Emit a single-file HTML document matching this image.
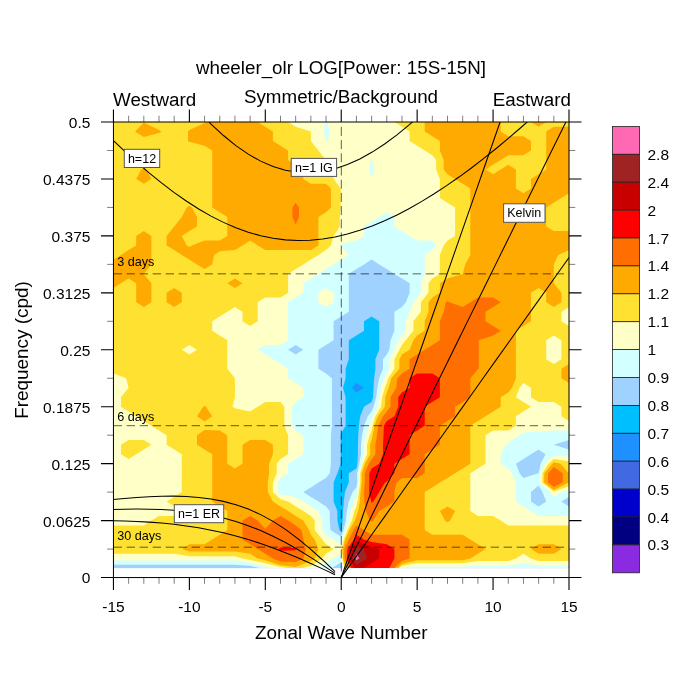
<!DOCTYPE html>
<html><head><meta charset="utf-8"><style>
html,body{margin:0;padding:0;background:#fff;}
svg{display:block;will-change:transform;}
text{font-family:"Liberation Sans",Arial,sans-serif;fill:#000;}
</style></head><body>
<svg width="700" height="700" viewBox="0 0 700 700">
<defs><clipPath id="pc"><rect x="113.45" y="122" width="455.55" height="455.55"/></clipPath></defs>

<g>
<rect x="113.5" y="122.00" width="455.6" height="446.06" fill="#1e90ff"/>
<path fill="#00bfff" fill-rule="evenodd" d="M113.5 568.1L128.6 568.1L143.8 568.1L159.0 568.1L174.2 568.1L189.4 568.1L204.6 568.1L219.7 568.1L234.9 568.1L250.1 568.1L265.3 568.1L280.5 568.1L295.7 568.1L310.9 568.1L326.0 568.1L341.2 568.1L356.4 568.1L371.6 568.1L386.8 568.1L402.0 568.1L417.1 568.1L432.3 568.1L447.5 568.1L462.7 568.1L477.9 568.1L493.1 568.1L508.3 568.1L523.4 568.1L538.6 568.1L553.8 568.1L569.0 568.1L569.0 558.6L569.0 549.1L569.0 539.6L569.0 530.1L569.0 520.6L569.0 511.1L569.0 501.6L569.0 492.1L569.0 482.6L569.0 473.2L569.0 463.7L569.0 454.2L569.0 444.7L569.0 435.2L569.0 425.7L569.0 416.2L569.0 406.7L569.0 397.2L569.0 387.7L569.0 378.2L569.0 368.8L569.0 359.3L569.0 349.8L569.0 340.3L569.0 330.8L569.0 321.3L569.0 311.8L569.0 302.3L569.0 292.8L569.0 283.3L569.0 273.9L569.0 264.4L569.0 254.9L569.0 245.4L569.0 235.9L569.0 226.4L569.0 216.9L569.0 207.4L569.0 197.9L569.0 188.4L569.0 178.9L569.0 169.5L569.0 160.0L569.0 150.5L569.0 141.0L569.0 131.5L569.0 122.0L553.8 122.0L538.6 122.0L523.4 122.0L508.3 122.0L493.1 122.0L477.9 122.0L462.7 122.0L447.5 122.0L432.3 122.0L417.1 122.0L402.0 122.0L386.8 122.0L371.6 122.0L356.4 122.0L341.2 122.0L326.0 122.0L310.9 122.0L295.7 122.0L280.5 122.0L265.3 122.0L250.1 122.0L234.9 122.0L219.7 122.0L204.6 122.0L189.4 122.0L174.2 122.0L159.0 122.0L143.8 122.0L128.6 122.0L113.5 122.0L113.5 131.5L113.5 141.0L113.5 150.5L113.5 160.0L113.5 169.5L113.5 178.9L113.5 188.4L113.5 197.9L113.5 207.4L113.5 216.9L113.5 226.4L113.5 235.9L113.5 245.4L113.5 254.9L113.5 264.4L113.5 273.9L113.5 283.3L113.5 292.8L113.5 302.3L113.5 311.8L113.5 321.3L113.5 330.8L113.5 340.3L113.5 349.8L113.5 359.3L113.5 368.8L113.5 378.2L113.5 387.7L113.5 397.2L113.5 406.7L113.5 416.2L113.5 425.7L113.5 435.2L113.5 444.7L113.5 454.2L113.5 463.7L113.5 473.2L113.5 482.6L113.5 492.1L113.5 501.6L113.5 511.1L113.5 520.6L113.5 530.1L113.5 539.6L113.5 549.1L113.5 558.6ZM356.4 392.5L351.9 387.7L356.4 383.0L364.0 387.7Z"/>
<path fill="#a0d2ff" fill-rule="evenodd" d="M113.5 568.1L128.6 568.1L143.8 568.1L159.0 568.1L174.2 568.1L189.4 568.1L204.6 568.1L219.7 568.1L234.9 568.1L250.1 568.1L265.3 568.1L280.5 568.1L295.7 568.1L310.9 568.1L326.0 568.1L341.2 568.1L356.4 568.1L371.6 568.1L386.8 568.1L402.0 568.1L417.1 568.1L432.3 568.1L447.5 568.1L462.7 568.1L477.9 568.1L493.1 568.1L508.3 568.1L523.4 568.1L538.6 568.1L553.8 568.1L569.0 568.1L569.0 558.6L569.0 549.1L569.0 539.6L569.0 530.1L569.0 520.6L569.0 511.1L569.0 501.6L569.0 492.1L569.0 482.6L569.0 473.2L569.0 463.7L569.0 454.2L569.0 444.7L569.0 435.2L569.0 425.7L569.0 416.2L569.0 406.7L569.0 397.2L569.0 387.7L569.0 378.2L569.0 368.8L569.0 359.3L569.0 349.8L569.0 340.3L569.0 330.8L569.0 321.3L569.0 311.8L569.0 302.3L569.0 292.8L569.0 283.3L569.0 273.9L569.0 264.4L569.0 254.9L569.0 245.4L569.0 235.9L569.0 226.4L569.0 216.9L569.0 207.4L569.0 197.9L569.0 188.4L569.0 178.9L569.0 169.5L569.0 160.0L569.0 150.5L569.0 141.0L569.0 131.5L569.0 122.0L553.8 122.0L538.6 122.0L523.4 122.0L508.3 122.0L493.1 122.0L477.9 122.0L462.7 122.0L447.5 122.0L432.3 122.0L417.1 122.0L402.0 122.0L386.8 122.0L371.6 122.0L356.4 122.0L341.2 122.0L326.0 122.0L310.9 122.0L295.7 122.0L280.5 122.0L265.3 122.0L250.1 122.0L234.9 122.0L219.7 122.0L204.6 122.0L189.4 122.0L174.2 122.0L159.0 122.0L143.8 122.0L128.6 122.0L113.5 122.0L113.5 131.5L113.5 141.0L113.5 150.5L113.5 160.0L113.5 169.5L113.5 178.9L113.5 188.4L113.5 197.9L113.5 207.4L113.5 216.9L113.5 226.4L113.5 235.9L113.5 245.4L113.5 254.9L113.5 264.4L113.5 273.9L113.5 283.3L113.5 292.8L113.5 302.3L113.5 311.8L113.5 321.3L113.5 330.8L113.5 340.3L113.5 349.8L113.5 359.3L113.5 368.8L113.5 378.2L113.5 387.7L113.5 397.2L113.5 406.7L113.5 416.2L113.5 425.7L113.5 435.2L113.5 444.7L113.5 454.2L113.5 463.7L113.5 473.2L113.5 482.6L113.5 492.1L113.5 501.6L113.5 511.1L113.5 520.6L113.5 530.1L113.5 539.6L113.5 549.1L113.5 558.6ZM341.2 531.2L339.4 530.1L337.4 520.6L337.4 511.1L333.6 501.6L333.6 492.1L333.6 482.6L337.4 473.2L340.7 463.7L340.7 454.2L340.7 444.7L340.7 435.2L341.2 433.3L345.6 425.7L345.6 416.2L345.6 406.7L345.6 397.2L343.0 387.7L345.6 378.2L345.6 368.8L348.8 359.3L348.8 349.8L348.8 340.3L356.4 335.5L364.0 330.8L364.0 321.3L371.6 316.6L379.2 321.3L379.2 330.8L379.2 340.3L379.2 349.8L375.4 359.3L375.4 368.8L374.1 378.2L373.5 387.7L373.1 397.2L371.6 402.0L364.0 406.7L360.2 416.2L358.9 425.7L358.3 435.2L357.9 444.7L357.9 454.2L357.4 463.7L356.4 468.4L348.8 473.2L348.8 482.6L345.0 492.1L343.8 501.6L343.1 511.1L342.7 520.6L341.6 530.1Z"/>
<path fill="#d2ffff" fill-rule="evenodd" d="M113.5 558.6L113.4 564.8L128.6 564.8L143.8 564.8L159.0 564.8L174.2 564.8L189.4 564.8L204.6 564.8L219.7 564.8L234.9 564.8L250.1 565.8L259.5 568.1L265.3 568.1L280.5 568.1L295.7 568.1L310.9 568.1L326.0 568.1L331.9 568.1L341.2 562.2L342.1 568.1L356.4 568.1L371.6 568.1L386.8 568.1L402.0 568.1L417.1 568.1L432.3 568.1L447.5 568.1L462.7 568.1L477.9 568.1L493.1 568.1L508.3 568.1L523.4 568.1L538.6 568.1L553.8 568.1L569.0 568.1L569.0 558.6L569.0 549.1L569.0 539.6L569.0 530.1L569.0 520.6L569.0 511.1L569.0 506.4L561.4 501.6L569.0 496.9L569.0 492.1L569.0 482.6L569.0 473.2L569.0 463.7L569.0 454.2L569.0 449.4L553.8 444.7L553.8 444.7L553.8 444.7L569.0 439.9L569.0 435.2L569.0 425.7L569.0 416.2L569.0 406.7L569.0 397.2L569.0 387.7L569.0 378.2L569.0 368.8L569.0 359.3L569.0 349.8L569.0 340.3L569.0 330.8L569.0 321.3L569.0 311.8L569.0 302.3L569.0 292.8L569.0 283.3L569.0 273.9L569.0 264.4L569.0 254.9L569.0 245.4L569.0 235.9L569.0 226.4L569.0 216.9L569.0 207.4L569.0 197.9L569.0 188.4L569.0 178.9L569.0 169.5L569.0 160.0L569.0 150.5L569.0 141.0L569.0 131.5L569.0 122.0L553.8 122.0L538.6 122.0L523.4 122.0L508.3 122.0L493.1 122.0L477.9 122.0L462.7 122.0L447.5 122.0L432.3 122.0L417.1 122.0L402.0 122.0L386.8 122.0L371.6 122.0L356.4 122.0L341.2 122.0L326.0 122.0L310.9 122.0L295.7 122.0L280.5 122.0L265.3 122.0L250.1 122.0L234.9 122.0L219.7 122.0L204.6 122.0L189.4 122.0L174.2 122.0L159.0 122.0L143.8 122.0L128.6 122.0L113.5 122.0L113.5 131.5L113.5 141.0L113.5 150.5L113.5 160.0L113.5 169.5L113.5 178.9L113.5 188.4L113.5 197.9L113.5 207.4L113.5 216.9L113.5 226.4L113.5 235.9L113.5 245.4L113.5 254.9L113.5 264.4L113.5 273.9L113.5 283.3L113.5 292.8L113.5 302.3L113.5 311.8L113.5 321.3L113.5 330.8L113.5 340.3L113.5 349.8L113.5 359.3L113.5 368.8L113.5 378.2L113.5 387.7L113.5 397.2L113.5 406.7L113.5 416.2L113.5 425.7L113.5 435.2L113.5 444.7L113.5 454.2L113.5 463.7L113.5 473.2L113.5 482.6L113.5 492.1L113.5 501.6L113.5 511.1L113.5 520.6L113.5 530.1L113.5 539.6L113.5 549.1ZM295.7 354.5L288.1 349.8L295.7 345.0L303.3 349.8ZM341.2 536.8L330.5 530.1L329.8 520.6L329.8 511.1L326.0 506.4L318.4 501.6L310.9 496.9L303.3 492.1L310.9 487.4L318.4 482.6L326.0 477.9L329.8 473.2L330.9 463.7L330.9 454.2L330.9 444.7L330.9 435.2L331.9 425.7L331.9 416.2L331.9 406.7L331.9 397.2L331.9 387.7L331.9 378.2L326.0 373.5L318.4 368.8L318.4 359.3L318.4 349.8L326.0 345.0L333.6 340.3L333.6 330.8L333.6 321.3L341.2 316.6L348.8 311.8L348.8 302.3L348.8 292.8L348.8 283.3L348.8 273.9L356.4 269.1L364.0 264.4L371.6 259.6L379.2 264.4L386.8 269.1L394.4 273.9L402.0 278.6L409.6 283.3L409.6 292.8L405.8 302.3L402.0 307.1L394.4 311.8L394.4 321.3L394.4 330.8L390.6 340.3L389.3 349.8L386.8 354.5L383.0 359.3L383.0 368.8L379.2 378.2L377.3 387.7L376.2 397.2L373.5 406.7L371.6 411.5L367.8 416.2L364.0 425.7L362.1 435.2L361.0 444.7L361.0 454.2L359.3 463.7L357.2 473.2L357.2 482.6L356.4 487.4L352.6 492.1L348.8 501.6L346.9 511.1L345.8 520.6L343.6 530.1ZM523.4 477.9L519.6 473.2L515.9 463.7L523.4 458.9L531.0 454.2L538.6 449.4L545.5 454.2L540.6 463.7L538.6 473.2L538.6 473.2ZM538.6 506.4L531.0 501.6L531.0 492.1L538.6 485.4L542.4 492.1L546.2 501.6Z"/>
<path fill="#ffffc8" fill-rule="evenodd" d="M113.5 558.6L113.5 560.6L128.6 560.6L143.8 560.6L159.0 560.6L174.2 560.6L189.4 560.6L204.6 560.6L219.7 560.6L234.9 560.6L250.1 562.9L265.3 566.5L272.9 568.1L280.5 568.1L295.7 568.1L310.9 568.1L318.4 568.1L326.0 563.3L333.6 558.6L341.2 553.8L341.6 558.6L343.3 568.1L356.4 568.1L371.6 568.1L386.8 568.1L401.1 568.1L402.0 567.3L417.1 566.5L432.3 566.5L447.5 566.5L462.7 566.5L477.9 565.7L493.1 565.7L508.3 565.7L523.4 563.3L538.6 565.7L553.8 565.7L569.0 565.7L569.0 558.6L569.0 549.1L569.0 539.6L569.0 530.1L569.0 520.6L569.0 515.9L553.8 515.9L538.6 515.9L531.0 511.1L523.4 506.4L515.9 501.6L515.9 492.1L515.9 482.6L512.1 473.2L508.3 468.4L500.7 463.7L500.7 454.2L505.7 444.7L508.3 443.1L519.1 435.2L523.4 432.5L538.6 431.6L553.8 430.4L569.0 430.4L569.0 425.7L569.0 416.2L569.0 406.7L569.0 397.2L569.0 387.7L569.0 378.2L569.0 368.8L569.0 359.3L569.0 349.8L569.0 340.3L569.0 330.8L569.0 321.3L569.0 311.8L569.0 302.3L569.0 292.8L569.0 283.3L569.0 273.9L569.0 264.4L569.0 254.9L569.0 245.4L569.0 235.9L569.0 226.4L569.0 216.9L569.0 207.4L569.0 197.9L569.0 188.4L569.0 178.9L569.0 169.5L569.0 160.0L569.0 150.5L569.0 141.0L569.0 131.5L569.0 122.0L553.8 122.0L538.6 122.0L523.4 122.0L508.3 122.0L493.1 122.0L477.9 122.0L462.7 122.0L447.5 122.0L432.3 122.0L417.1 122.0L402.0 122.0L386.8 122.0L371.6 122.0L356.4 122.0L341.2 122.0L327.4 122.0L329.5 131.5L327.4 141.0L326.0 141.8L325.3 141.0L324.1 131.5L324.7 122.0L310.9 122.0L295.7 122.0L280.5 122.0L265.3 122.0L250.1 122.0L234.9 122.0L219.7 122.0L204.6 122.0L189.4 122.0L174.2 122.0L159.0 122.0L143.8 122.0L128.6 122.0L113.5 122.0L113.5 131.5L113.5 141.0L113.5 150.5L113.5 160.0L113.5 169.5L113.5 178.9L113.5 188.4L113.5 197.9L113.5 207.4L113.5 216.9L113.5 226.4L113.5 235.9L113.5 245.4L113.5 254.9L113.5 264.4L113.5 273.9L113.5 283.3L113.5 292.8L113.5 302.3L113.5 311.8L113.5 321.3L113.5 330.8L113.5 340.3L113.5 349.8L113.5 359.3L113.5 368.8L113.5 378.2L113.5 387.7L113.5 397.2L113.5 406.7L113.5 416.2L113.5 425.7L113.5 435.2L113.5 444.7L113.5 454.2L113.5 463.7L113.5 473.2L113.5 482.6L113.5 492.1L113.5 501.6L113.5 511.1L113.5 520.6L113.5 530.1L113.5 539.6L113.5 549.1ZM341.2 544.3L333.6 539.6L326.0 534.8L322.2 530.1L322.2 520.6L318.4 511.1L310.9 506.4L303.3 501.6L295.7 496.9L280.5 494.5L278.0 492.1L278.0 482.6L280.5 477.9L288.1 473.2L288.1 463.7L295.7 458.9L303.3 454.2L303.3 444.7L303.3 435.2L295.7 430.4L291.9 425.7L291.9 416.2L291.9 406.7L295.7 402.0L303.3 397.2L303.3 387.7L295.7 383.0L288.1 378.2L288.1 368.8L280.5 364.0L272.9 359.3L265.3 354.5L257.7 349.8L265.3 345.0L280.5 345.0L288.1 340.3L288.1 330.8L288.1 321.3L288.1 311.8L288.1 302.3L295.7 297.6L303.3 292.8L303.3 283.3L310.9 278.6L318.4 273.9L326.0 269.1L333.6 264.4L341.2 259.6L348.8 254.9L341.2 247.0L340.3 245.4L341.2 243.8L356.4 240.6L364.0 235.9L364.0 226.4L371.6 221.7L379.2 216.9L386.8 212.2L394.4 216.9L394.4 226.4L402.0 231.1L409.6 235.9L417.1 240.6L432.3 240.6L436.1 245.4L432.3 250.1L424.7 254.9L424.7 264.4L424.7 273.9L420.9 283.3L420.9 292.8L417.1 297.6L413.4 302.3L409.6 311.8L405.8 321.3L405.8 330.8L402.0 335.5L398.2 340.3L394.4 349.8L389.3 359.3L389.3 368.8L386.8 373.5L384.2 378.2L381.1 387.7L379.2 397.2L377.3 406.7L372.9 416.2L371.6 421.0L369.1 425.7L365.9 435.2L364.0 444.7L364.0 454.2L361.2 463.7L358.7 473.2L358.7 482.6L357.3 492.1L356.4 496.9L353.9 501.6L350.7 511.1L348.8 520.6L345.6 530.1L342.1 539.6ZM371.6 177.4L369.1 169.5L371.0 160.0L371.6 159.6L372.2 160.0L374.1 169.5ZM550.0 492.1L553.8 496.9L561.4 492.1L569.0 490.2L569.0 482.6L569.0 473.2L569.0 463.7L569.0 456.5L553.8 455.5L544.5 463.7L540.5 473.2L540.2 482.6ZM318.4 302.3L326.0 307.1L333.6 302.3L333.6 292.8L326.0 288.1L318.4 292.8Z"/>
<path fill="#ffe132" fill-rule="evenodd" d="M242.5 558.6L250.1 560.0L265.3 563.3L280.5 567.1L288.1 568.1L295.7 568.1L303.3 568.1L310.9 565.7L322.2 558.6L326.0 553.8L333.6 549.1L326.0 544.3L322.2 539.6L314.7 530.1L314.7 520.6L310.9 515.9L303.3 511.1L295.7 506.4L288.1 501.6L280.5 499.3L272.9 492.1L272.9 482.6L276.7 473.2L276.7 463.7L280.5 458.9L288.1 454.2L288.1 444.7L288.1 435.2L284.3 425.7L284.3 416.2L284.3 406.7L280.5 402.0L265.3 402.0L257.7 406.7L250.1 411.5L234.9 408.3L232.4 406.7L234.9 397.2L234.9 387.7L234.9 378.2L227.3 368.8L227.3 359.3L227.3 349.8L227.3 340.3L219.7 335.5L212.2 330.8L212.2 321.3L219.7 316.6L227.3 311.8L234.9 307.1L242.5 311.8L242.5 321.3L250.1 326.0L257.7 321.3L257.7 311.8L257.7 302.3L265.3 297.6L280.5 297.6L288.1 292.8L288.1 283.3L288.1 273.9L295.7 269.1L303.3 264.4L310.9 259.6L318.4 254.9L326.0 250.1L330.8 245.4L333.6 235.9L339.8 226.4L339.8 216.9L340.7 207.4L340.7 197.9L340.7 188.4L333.6 178.9L333.6 169.5L326.0 160.0L326.0 160.0L318.4 150.5L310.9 141.0L310.9 141.0L310.9 131.5L295.7 126.7L288.1 122.0L280.5 122.0L265.3 122.0L250.1 122.0L234.9 122.0L219.7 122.0L204.6 122.0L189.4 122.0L174.2 122.0L159.0 122.0L143.8 122.0L128.6 122.0L113.5 122.0L113.5 131.5L113.5 141.0L113.5 150.5L113.5 160.0L113.5 169.5L113.5 178.9L113.5 188.4L113.5 197.9L113.5 207.4L113.5 216.9L113.5 226.4L113.5 235.9L113.5 245.4L113.5 254.9L113.5 264.4L113.5 273.9L113.5 283.3L113.5 292.8L113.5 302.3L113.5 311.8L113.5 321.3L113.5 330.8L113.5 340.3L113.5 349.8L113.5 359.3L113.5 368.8L113.5 373.5L126.1 378.2L128.6 387.7L128.6 387.7L128.6 387.7L121.0 397.2L121.0 406.7L128.6 411.5L136.2 416.2L143.8 421.0L151.4 425.7L159.0 430.4L166.6 435.2L166.6 444.7L174.2 449.4L181.8 454.2L181.8 463.7L181.8 473.2L181.8 482.6L181.8 492.1L174.2 496.9L166.6 501.6L174.2 506.4L181.8 511.1L174.2 515.9L159.0 515.9L151.4 520.6L143.8 525.4L128.6 525.4L113.5 525.4L113.5 530.1L113.5 539.6L113.5 549.1L113.5 553.8L128.6 553.8L143.8 553.8L159.0 553.8L174.2 553.8L189.4 556.2L204.6 556.2L219.7 556.2L234.9 556.2ZM189.4 354.5L181.8 349.8L189.4 345.0L197.0 349.8ZM344.4 568.1L356.4 568.1L371.6 568.1L386.8 568.1L399.4 568.1L402.0 565.7L417.1 563.3L432.3 563.3L447.5 563.3L462.7 563.3L477.9 560.9L493.1 560.9L508.3 560.9L515.9 558.6L523.4 553.8L531.0 558.6L538.6 560.9L553.8 560.9L569.0 560.9L569.0 558.6L569.0 549.1L569.0 539.6L569.0 530.1L569.0 525.4L553.8 525.4L538.6 525.4L523.4 525.4L508.3 525.4L500.7 520.6L493.1 515.9L477.9 515.9L470.3 511.1L470.3 501.6L470.3 492.1L470.3 482.6L470.3 473.2L477.9 468.4L485.5 463.7L485.5 454.2L485.5 444.7L485.5 435.2L493.1 430.4L508.3 430.4L515.9 425.7L515.9 416.2L523.4 411.5L531.0 406.7L523.4 402.0L515.9 397.2L519.6 387.7L523.4 383.0L531.0 387.7L531.0 397.2L538.6 402.0L553.8 402.0L561.4 406.7L561.4 416.2L569.0 421.0L569.0 416.2L569.0 406.7L569.0 397.2L569.0 387.7L569.0 378.2L569.0 368.8L569.0 359.3L569.0 349.8L569.0 340.3L569.0 330.8L569.0 326.0L561.4 321.3L561.4 311.8L569.0 307.1L569.0 302.3L569.0 292.8L569.0 283.3L569.0 273.9L569.0 264.4L569.0 254.9L569.0 245.4L569.0 235.9L569.0 226.4L569.0 216.9L569.0 207.4L569.0 197.9L569.0 188.4L569.0 178.9L569.0 169.5L569.0 160.0L569.0 150.5L569.0 141.0L569.0 131.5L569.0 122.0L553.8 122.0L538.6 122.0L523.4 122.0L508.3 122.0L493.1 122.0L477.9 122.0L462.7 122.0L447.5 122.0L432.3 122.0L417.1 122.0L402.0 122.0L394.4 122.0L402.0 126.7L409.6 131.5L409.6 141.0L417.1 145.7L424.7 150.5L432.3 155.2L436.1 160.0L436.1 169.5L439.9 178.9L439.9 188.4L439.9 197.9L447.5 202.7L455.1 207.4L455.1 216.9L455.1 226.4L455.1 235.9L447.5 240.6L443.7 245.4L439.9 254.9L439.9 264.4L439.9 273.9L432.3 278.6L428.5 283.3L428.5 292.8L420.9 302.3L420.9 311.8L417.1 316.6L413.4 321.3L413.4 330.8L405.8 340.3L402.0 345.0L399.4 349.8L394.4 359.3L394.4 368.8L388.3 378.2L386.8 383.0L384.9 387.7L382.2 397.2L381.1 406.7L375.4 416.2L372.5 425.7L371.6 430.4L369.7 435.2L367.0 444.7L367.0 454.2L363.1 463.7L360.2 473.2L360.2 482.6L358.9 492.1L357.5 501.6L356.4 506.4L354.5 511.1L351.9 520.6L347.5 530.1L343.8 539.6L341.7 549.1L342.4 558.6ZM553.8 364.0L546.2 359.3L546.2 349.8L546.2 340.3L553.8 335.5L561.4 340.3L561.4 349.8L561.4 359.3ZM542.1 482.6L553.8 491.4L569.0 486.2L569.0 482.6L569.0 473.2L569.0 463.7L569.0 461.3L553.8 458.9L548.4 463.7L542.4 473.2ZM121.0 454.2L128.6 458.9L136.2 454.2L143.8 449.4L151.4 444.7L143.8 439.9L128.6 439.9L121.0 444.7Z"/>
<path fill="#ffaa00" fill-rule="evenodd" d="M257.7 558.6L265.3 560.2L280.5 565.2L295.7 566.9L310.9 560.9L314.7 558.6L318.4 549.1L314.7 539.6L310.9 534.8L309.0 530.1L303.3 520.6L295.7 515.9L288.1 511.1L280.5 506.4L272.9 501.6L267.8 492.1L267.8 482.6L269.1 473.2L269.1 463.7L272.9 454.2L272.9 444.7L265.3 439.9L250.1 439.9L242.5 444.7L242.5 454.2L242.5 463.7L234.9 468.4L227.3 463.7L227.3 454.2L227.3 444.7L227.3 435.2L219.7 430.4L204.6 429.9L197.0 435.2L197.0 444.7L204.6 449.4L212.2 454.2L212.2 463.7L212.2 473.2L212.2 482.6L212.2 492.1L212.2 501.6L219.7 506.4L227.3 511.1L227.3 520.6L227.3 530.1L219.7 534.8L212.2 539.6L204.6 544.3L189.4 544.3L181.8 549.1L189.4 551.5L204.6 551.5L219.7 551.5L234.9 551.5L250.1 553.8ZM345.6 568.1L356.4 568.1L371.6 568.1L386.8 568.1L397.7 568.1L402.0 564.1L417.1 560.2L432.3 560.2L447.5 560.2L462.7 560.2L470.3 558.6L477.9 553.8L485.5 549.1L477.9 544.3L470.3 539.6L462.7 534.8L447.5 534.8L432.3 534.8L424.7 530.1L424.7 520.6L424.7 511.1L424.7 501.6L424.7 492.1L432.3 487.4L439.9 482.6L447.5 477.9L455.1 473.2L462.7 468.4L470.3 463.7L470.3 454.2L470.3 444.7L470.3 435.2L470.3 425.7L477.9 421.0L485.5 416.2L493.1 411.5L500.7 406.7L500.7 397.2L508.3 392.5L512.1 387.7L515.9 378.2L515.9 368.8L515.9 359.3L515.9 349.8L515.9 340.3L515.9 330.8L523.4 326.0L531.0 321.3L531.0 311.8L531.0 302.3L531.0 292.8L538.6 288.1L546.2 292.8L546.2 302.3L553.8 307.1L561.4 302.3L561.4 292.8L553.8 283.3L553.8 283.3L553.8 273.9L553.8 264.4L553.8 264.4L558.2 254.9L569.0 250.1L569.0 245.4L569.0 235.9L569.0 231.1L553.8 231.1L546.2 226.4L546.2 216.9L546.2 207.4L553.8 202.7L561.4 197.9L569.0 193.2L569.0 188.4L569.0 178.9L569.0 169.5L569.0 160.0L569.0 150.5L569.0 141.0L569.0 131.5L569.0 126.7L553.8 126.7L546.2 131.5L546.2 141.0L546.2 150.5L546.2 160.0L546.2 169.5L538.6 174.2L531.0 178.9L531.0 188.4L523.4 193.2L515.9 188.4L515.9 178.9L515.9 169.5L508.3 164.7L500.7 169.5L493.1 174.2L485.5 169.5L493.1 164.7L500.7 160.0L508.3 155.2L523.4 155.2L531.0 150.5L531.0 141.0L523.4 136.2L508.3 136.2L500.7 131.5L500.7 122.0L493.1 122.0L477.9 122.0L462.7 122.0L447.5 122.0L432.3 122.0L424.7 122.0L424.7 131.5L432.3 136.2L439.9 141.0L439.9 150.5L443.7 160.0L443.7 169.5L447.5 174.2L455.1 178.9L462.7 183.7L470.3 188.4L470.3 197.9L470.3 207.4L470.3 216.9L470.3 226.4L470.3 235.9L470.3 245.4L470.3 254.9L465.2 264.4L462.7 273.9L462.7 273.9L447.5 278.6L439.9 283.3L439.9 292.8L432.3 297.6L428.5 302.3L428.5 311.8L424.7 321.3L424.7 330.8L417.1 335.5L413.4 340.3L409.6 349.8L402.0 354.5L399.4 359.3L399.4 368.8L391.3 378.2L388.7 387.7L386.8 392.5L385.3 397.2L384.9 406.7L377.9 416.2L374.4 425.7L372.7 435.2L371.6 439.9L370.1 444.7L370.1 454.2L365.0 463.7L361.7 473.2L361.7 482.6L360.6 492.1L359.8 501.6L358.3 511.1L356.4 515.9L354.9 520.6L349.5 530.1L345.4 539.6L342.6 549.1L343.1 558.6ZM531.0 549.1L538.6 553.8L553.8 553.8L561.4 549.1L553.8 544.3L538.6 544.3ZM445.0 520.6L447.5 522.2L450.1 520.6L455.1 511.1L447.5 506.4L439.9 511.1ZM544.1 482.6L553.8 489.9L568.7 482.6L568.7 473.2L560.6 463.7L553.8 462.3L552.3 463.7L544.3 473.2ZM197.0 416.2L204.6 421.5L212.2 416.2L205.9 406.7L204.6 405.9L203.2 406.7ZM561.4 378.2L569.0 383.0L569.0 378.2L569.0 368.8L569.0 364.0L561.4 368.8ZM136.2 302.3L143.8 307.1L151.4 302.3L151.4 292.8L151.4 283.3L143.8 273.9L143.8 273.9L143.8 273.9L151.4 264.4L151.4 254.9L151.4 245.4L151.4 235.9L143.8 231.1L136.2 235.9L136.2 245.4L128.6 250.1L121.0 254.9L113.5 259.6L113.5 264.4L113.5 273.9L113.5 283.3L113.5 288.1L121.0 283.3L128.6 278.6L136.2 283.3L136.2 292.8ZM166.6 302.3L174.2 307.1L181.8 302.3L181.8 292.8L174.2 288.1L166.6 292.8ZM227.3 283.3L234.9 288.1L242.5 283.3L234.9 278.6ZM197.0 264.4L204.6 269.1L212.2 264.4L214.1 254.9L219.7 251.3L234.9 250.1L242.5 245.4L250.1 240.6L257.7 245.4L265.3 250.1L280.5 250.1L295.7 250.1L310.9 250.1L318.4 245.4L318.4 235.9L318.4 226.4L318.4 216.9L326.0 212.2L330.9 207.4L330.9 197.9L330.9 188.4L326.0 183.7L310.9 183.7L303.3 178.9L303.3 169.5L295.7 164.7L288.1 160.0L288.1 150.5L280.5 145.7L272.9 141.0L272.9 131.5L265.3 126.7L257.7 122.0L250.1 122.0L234.9 122.0L219.7 122.0L205.9 122.0L204.6 122.9L189.4 130.1L188.0 131.5L188.0 141.0L189.4 141.8L204.6 145.7L212.2 150.5L212.2 160.0L212.2 169.5L212.2 178.9L212.2 188.4L212.2 197.9L212.2 207.4L219.7 212.2L227.3 216.9L227.3 226.4L227.3 235.9L219.7 240.6L204.6 240.6L191.9 245.4L189.4 247.0L186.8 245.4L181.8 235.9L189.4 231.1L197.0 226.4L197.0 216.9L191.9 207.4L189.4 205.8L186.8 207.4L181.8 216.9L174.2 226.4L174.2 226.4L166.6 235.9L166.6 245.4L174.2 250.1L181.8 254.9L189.4 259.6ZM136.2 178.9L143.8 183.7L151.4 178.9L146.4 169.5L143.8 167.9L141.3 169.5ZM135.0 131.5L143.8 137.0L159.0 133.1L161.5 131.5L159.0 129.9L143.8 122.6ZM531.0 122.0L538.6 126.7L546.2 122.0L538.6 122.0Z"/>
<path fill="#ff6e00" fill-rule="evenodd" d="M272.9 558.6L280.5 561.4L295.7 562.1L303.3 558.6L306.0 549.1L303.3 539.6L301.4 530.1L295.7 525.4L288.1 520.6L280.5 515.9L272.9 520.6L265.3 529.0L257.7 520.6L250.1 515.9L242.5 520.6L242.5 530.1L242.5 539.6L250.1 544.3L257.7 549.1L265.3 553.8ZM347.8 568.1L356.4 568.1L371.6 568.1L386.8 568.1L394.4 568.1L402.0 560.9L409.6 558.6L409.6 549.1L409.6 539.6L402.0 534.8L386.8 534.8L371.6 534.8L364.0 530.1L356.4 525.4L353.5 530.1L348.8 539.6L344.5 549.1L344.6 558.6ZM369.8 520.6L371.6 521.7L373.4 520.6L379.2 511.1L386.8 506.4L394.4 501.6L394.4 492.1L396.7 482.6L402.0 477.9L417.1 477.9L424.7 473.2L424.7 463.7L424.7 454.2L432.3 449.4L439.9 444.7L439.9 435.2L439.9 425.7L447.5 421.0L455.1 416.2L455.1 406.7L462.7 402.0L470.3 397.2L470.3 387.7L470.3 378.2L477.9 369.3L478.8 368.8L478.8 359.3L478.8 349.8L478.8 340.3L493.1 335.5L500.7 330.8L493.1 326.0L485.5 321.3L485.5 311.8L493.1 307.1L500.7 302.3L493.1 297.6L477.9 297.6L470.3 302.3L462.7 307.1L449.3 302.3L447.5 301.2L445.7 302.3L443.7 311.8L439.9 321.3L439.9 330.8L439.9 340.3L432.3 345.0L424.7 349.8L417.1 354.5L409.6 359.3L409.6 368.8L402.0 373.5L397.4 378.2L396.3 387.7L390.6 397.2L390.6 406.7L386.8 411.5L383.0 416.2L378.2 425.7L377.0 435.2L375.4 444.7L375.4 454.2L371.6 458.9L368.7 463.7L364.8 473.2L364.8 482.6L364.0 492.1L364.3 501.6L365.9 511.1ZM548.0 482.6L553.8 487.0L562.7 482.6L562.7 473.2L553.8 467.0L548.1 473.2ZM292.5 216.9L295.7 224.5L298.9 216.9L298.9 207.4L295.7 202.7L292.5 207.4Z"/>
<path fill="#ff0000" fill-rule="evenodd" d="M351.3 568.1L356.4 568.1L371.6 568.1L386.8 568.1L389.3 568.1L394.4 558.6L394.4 549.1L386.8 544.3L371.6 542.0L364.0 539.6L356.4 534.8L353.9 539.6L347.4 549.1L346.9 558.6ZM278.0 549.1L280.5 550.7L295.7 550.2L296.3 549.1L295.7 548.0L280.5 547.5ZM371.1 501.6L371.6 502.7L373.4 501.6L379.2 492.1L385.0 482.6L386.8 481.5L394.4 473.2L394.4 463.7L402.0 458.9L409.6 454.2L409.6 444.7L409.6 435.2L417.1 430.4L424.7 425.7L424.7 416.2L424.7 406.7L432.3 402.0L439.9 397.2L439.9 387.7L439.9 378.2L432.3 373.5L417.1 373.5L409.6 378.2L409.6 387.7L402.0 392.5L398.2 397.2L398.2 406.7L394.4 416.2L386.8 421.0L383.9 425.7L383.5 435.2L383.0 444.7L383.0 454.2L379.2 463.7L371.6 468.4L369.3 473.2L369.3 482.6L369.1 492.1Z"/>
<path fill="#c80000" fill-rule="evenodd" d="M354.7 568.1L356.4 568.1L364.0 568.1L371.6 563.3L379.2 558.6L379.2 549.1L371.6 546.7L356.4 541.4L350.2 549.1L349.2 558.6Z"/>
<path fill="#a02323" fill-rule="evenodd" d="M352.2 558.6L356.4 565.1L366.8 558.6L364.0 549.1L356.4 546.1L354.0 549.1Z"/>
<path fill="#ff69b4" fill-rule="evenodd" d="M355.3 558.6L356.4 560.3L359.3 558.6L356.4 553.8Z"/>
</g>
<path d="M113.7 273.85 H569.0 M113.7 425.70 H569.0 M113.7 547.18 H569.0" stroke="#000" stroke-opacity="0.62" stroke-width="1" stroke-dasharray="8.3 4.7" fill="none"/>
<path d="M341.3 126.9 V577.5" stroke="#000" stroke-opacity="0.62" stroke-width="1" stroke-dasharray="9 4.2" fill="none"/>
<g clip-path="url(#pc)" stroke="#000" stroke-width="1.05" fill="none">
<path d="M37.53 508.06 L49.92 506.58 L62.32 505.10 L74.71 503.65 L87.11 502.23 L99.50 500.86 L111.90 499.59 L124.30 498.44 L136.69 497.47 L149.09 496.71 L161.48 496.24 L173.88 496.14 L186.28 496.49 L198.67 497.40 L211.07 498.99 L223.46 501.38 L235.86 504.70 L248.26 509.08 L260.65 514.61 L273.05 521.38 L285.44 529.39 L297.84 538.61 L310.24 548.88 L322.63 559.99 L335.03 571.63"/>
<path d="M37.53 514.33 L49.92 513.36 L62.32 512.43 L74.71 511.57 L87.11 510.80 L99.50 510.13 L111.90 509.60 L124.30 509.24 L136.69 509.08 L149.09 509.18 L161.48 509.57 L173.88 510.31 L186.28 511.47 L198.67 513.10 L211.07 515.28 L223.46 518.06 L235.86 521.50 L248.26 525.64 L260.65 530.53 L273.05 536.16 L285.44 542.50 L297.84 549.51 L310.24 557.08 L322.63 565.09 L335.03 573.36"/>
<path d="M37.53 521.93 L49.92 521.47 L62.32 521.08 L74.71 520.79 L87.11 520.61 L99.50 520.56 L111.90 520.66 L124.30 520.93 L136.69 521.41 L149.09 522.12 L161.48 523.08 L173.88 524.34 L186.28 525.92 L198.67 527.84 L211.07 530.15 L223.46 532.86 L235.86 536.00 L248.26 539.56 L260.65 543.55 L273.05 547.95 L285.44 552.73 L297.84 557.86 L310.24 563.27 L322.63 568.89 L335.03 574.65"/>
<path d="M37.53 1448.42 L49.92 1412.87 L62.32 1377.33 L74.71 1341.78 L87.11 1306.24 L99.50 1270.69 L111.90 1235.14 L124.30 1199.60 L136.69 1164.05 L149.09 1128.51 L161.48 1092.96 L173.88 1057.42 L186.28 1021.87 L198.67 986.33 L211.07 950.78 L223.46 915.23 L235.86 879.69 L248.26 844.14 L260.65 808.60 L273.05 773.05 L285.44 737.51 L297.84 701.96 L310.24 666.41 L322.63 630.87 L335.03 595.32 L347.42 559.78 L359.82 524.23 L372.21 488.69 L384.61 453.14 L397.01 417.59 L409.40 382.05 L421.80 346.50 L434.19 310.96 L446.59 275.41 L458.99 239.87 L471.38 204.32 L483.78 168.77 L496.17 133.23 L508.57 97.68 L520.97 62.14 L533.36 26.59 L545.76 -8.95 L558.15 -44.50 L570.55 -80.04 L582.95 -115.59 L595.34 -151.14 L607.74 -186.68 L620.13 -222.23 L632.53 -257.77 L644.93 -293.32"/>
<path d="M37.53 1193.35 L49.92 1168.21 L62.32 1143.08 L74.71 1117.94 L87.11 1092.81 L99.50 1067.67 L111.90 1042.54 L124.30 1017.41 L136.69 992.27 L149.09 967.14 L161.48 942.00 L173.88 916.87 L186.28 891.73 L198.67 866.60 L211.07 841.46 L223.46 816.33 L235.86 791.19 L248.26 766.06 L260.65 740.92 L273.05 715.79 L285.44 690.66 L297.84 665.52 L310.24 640.39 L322.63 615.25 L335.03 590.12 L347.42 564.98 L359.82 539.85 L372.21 514.71 L384.61 489.58 L397.01 464.44 L409.40 439.31 L421.80 414.18 L434.19 389.04 L446.59 363.91 L458.99 338.77 L471.38 313.64 L483.78 288.50 L496.17 263.37 L508.57 238.23 L520.97 213.10 L533.36 187.96 L545.76 162.83 L558.15 137.69 L570.55 112.56 L582.95 87.43 L595.34 62.29 L607.74 37.16 L620.13 12.02 L632.53 -13.11 L644.93 -38.25"/>
<path d="M37.53 1004.19 L49.92 986.77 L62.32 969.36 L74.71 951.95 L87.11 934.53 L99.50 917.12 L111.90 899.70 L124.30 882.29 L136.69 864.88 L149.09 847.46 L161.48 830.05 L173.88 812.64 L186.28 795.22 L198.67 777.81 L211.07 760.39 L223.46 742.98 L235.86 725.57 L248.26 708.15 L260.65 690.74 L273.05 673.33 L285.44 655.91 L297.84 638.50 L310.24 621.08 L322.63 603.67 L335.03 586.26 L347.42 568.84 L359.82 551.43 L372.21 534.02 L384.61 516.60 L397.01 499.19 L409.40 481.77 L421.80 464.36 L434.19 446.95 L446.59 429.53 L458.99 412.12 L471.38 394.71 L483.78 377.29 L496.17 359.88 L508.57 342.46 L520.97 325.05 L533.36 307.64 L545.76 290.22 L558.15 272.81 L570.55 255.40 L582.95 237.98 L595.34 220.57 L607.74 203.15 L620.13 185.74 L632.53 168.33 L644.93 150.91"/>
<path d="M37.53 -384.25 L49.92 -352.50 L62.32 -321.07 L74.71 -290.00 L87.11 -259.34 L99.50 -229.15 L111.90 -199.48 L124.30 -170.42 L136.69 -142.05 L149.09 -114.47 L161.48 -87.81 L173.88 -62.20 L186.28 -37.80 L198.67 -14.80 L211.07 6.61 L223.46 26.20 L235.86 43.76 L248.26 59.05 L260.65 71.87 L273.05 82.06 L285.44 89.50 L297.84 94.14 L310.24 95.99 L322.63 95.13 L335.03 91.66 L347.42 85.74 L359.82 77.54 L372.21 67.22 L384.61 54.96 L397.01 40.91 L409.40 25.22 L421.80 8.04 L434.19 -10.52 L446.59 -30.33 L458.99 -51.29 L471.38 -73.30 L483.78 -96.28 L496.17 -120.14 L508.57 -144.81 L520.97 -170.23 L533.36 -196.32 L545.76 -223.05 L558.15 -250.34 L570.55 -278.17 L582.95 -306.48 L595.34 -335.24 L607.74 -364.41 L620.13 -393.96 L632.53 -423.86 L644.93 -454.08"/>
<path d="M37.53 -128.80 L49.92 -107.39 L62.32 -86.28 L74.71 -65.51 L87.11 -45.12 L99.50 -25.15 L111.90 -5.66 L124.30 13.29 L136.69 31.63 L149.09 49.29 L161.48 66.17 L173.88 82.20 L186.28 97.25 L198.67 111.23 L211.07 124.02 L223.46 135.51 L235.86 145.59 L248.26 154.16 L260.65 161.15 L273.05 166.50 L285.44 170.18 L297.84 172.21 L310.24 172.59 L322.63 171.38 L335.03 168.65 L347.42 164.46 L359.82 158.91 L372.21 152.07 L384.61 144.04 L397.01 134.90 L409.40 124.72 L421.80 113.57 L434.19 101.54 L446.59 88.67 L458.99 75.04 L471.38 60.68 L483.78 45.67 L496.17 30.04 L508.57 13.84 L520.97 -2.90 L533.36 -20.13 L545.76 -37.82 L558.15 -55.94 L570.55 -74.46 L582.95 -93.34 L595.34 -112.57 L607.74 -132.12 L620.13 -151.98 L632.53 -172.10 L644.93 -192.49"/>
<path d="M37.53 61.07 L49.92 74.90 L62.32 88.45 L74.71 101.70 L87.11 114.61 L99.50 127.16 L111.90 139.30 L124.30 150.99 L136.69 162.19 L149.09 172.84 L161.48 182.90 L173.88 192.31 L186.28 201.01 L198.67 208.96 L211.07 216.10 L223.46 222.38 L235.86 227.77 L248.26 232.23 L260.65 235.74 L273.05 238.29 L285.44 239.87 L297.84 240.51 L310.24 240.21 L322.63 239.02 L335.03 236.95 L347.42 234.05 L359.82 230.35 L372.21 225.91 L384.61 220.75 L397.01 214.93 L409.40 208.47 L421.80 201.42 L434.19 193.81 L446.59 185.68 L458.99 177.05 L471.38 167.96 L483.78 158.44 L496.17 148.50 L508.57 138.18 L520.97 127.49 L533.36 116.46 L545.76 105.12 L558.15 93.47 L570.55 81.54 L582.95 69.34 L595.34 56.89 L607.74 44.20 L620.13 31.29 L632.53 18.17 L644.93 4.85"/>
</g>
<path d="M113.45 577.55 V590.05 M113.45 122.00 V109.50 M189.38 577.55 V590.05 M189.38 122.00 V109.50 M265.30 577.55 V590.05 M265.30 122.00 V109.50 M341.23 577.55 V590.05 M341.23 122.00 V109.50 M417.15 577.55 V590.05 M417.15 122.00 V109.50 M493.07 577.55 V590.05 M493.07 122.00 V109.50 M569.00 577.55 V590.05 M569.00 122.00 V109.50 M113.45 577.55 H100.95 M569.00 577.55 H581.50 M113.45 520.61 H100.95 M569.00 520.61 H581.50 M113.45 463.66 H100.95 M569.00 463.66 H581.50 M113.45 406.72 H100.95 M569.00 406.72 H581.50 M113.45 349.77 H100.95 M569.00 349.77 H581.50 M113.45 292.83 H100.95 M569.00 292.83 H581.50 M113.45 235.89 H100.95 M569.00 235.89 H581.50 M113.45 178.94 H100.95 M569.00 178.94 H581.50 M113.45 122.00 H100.95 M569.00 122.00 H581.50" stroke="#000" stroke-width="1.1" fill="none"/><path d="M128.63 577.55 V583.85 M128.63 122.00 V115.70 M143.82 577.55 V583.85 M143.82 122.00 V115.70 M159.00 577.55 V583.85 M159.00 122.00 V115.70 M174.19 577.55 V583.85 M174.19 122.00 V115.70 M204.56 577.55 V583.85 M204.56 122.00 V115.70 M219.75 577.55 V583.85 M219.75 122.00 V115.70 M234.93 577.55 V583.85 M234.93 122.00 V115.70 M250.12 577.55 V583.85 M250.12 122.00 V115.70 M280.49 577.55 V583.85 M280.49 122.00 V115.70 M295.67 577.55 V583.85 M295.67 122.00 V115.70 M310.86 577.55 V583.85 M310.86 122.00 V115.70 M326.04 577.55 V583.85 M326.04 122.00 V115.70 M356.41 577.55 V583.85 M356.41 122.00 V115.70 M371.60 577.55 V583.85 M371.60 122.00 V115.70 M386.78 577.55 V583.85 M386.78 122.00 V115.70 M401.97 577.55 V583.85 M401.97 122.00 V115.70 M432.34 577.55 V583.85 M432.34 122.00 V115.70 M447.52 577.55 V583.85 M447.52 122.00 V115.70 M462.70 577.55 V583.85 M462.70 122.00 V115.70 M477.89 577.55 V583.85 M477.89 122.00 V115.70 M508.26 577.55 V583.85 M508.26 122.00 V115.70 M523.45 577.55 V583.85 M523.45 122.00 V115.70 M538.63 577.55 V583.85 M538.63 122.00 V115.70 M553.82 577.55 V583.85 M553.82 122.00 V115.70 M113.45 549.08 H107.15 M569.00 549.08 H575.30 M113.45 492.13 H107.15 M569.00 492.13 H575.30 M113.45 435.19 H107.15 M569.00 435.19 H575.30 M113.45 378.25 H107.15 M569.00 378.25 H575.30 M113.45 321.30 H107.15 M569.00 321.30 H575.30 M113.45 264.36 H107.15 M569.00 264.36 H575.30 M113.45 207.42 H107.15 M569.00 207.42 H575.30 M113.45 150.47 H107.15 M569.00 150.47 H575.30" stroke="#808080" stroke-width="1" fill="none"/>
<path d="M113.45 122.00 H569.00 V577.55 H113.45 Z" fill="none" stroke="#000" stroke-width="1"/>
<text x="341" y="73.5" font-size="18.8" text-anchor="middle">wheeler_olr LOG[Power: 15S-15N]</text>
<text x="113" y="106.4" font-size="18.8" >Westward</text>
<text x="341" y="103" font-size="18.8" text-anchor="middle">Symmetric/Background</text>
<text x="571" y="106.4" font-size="18.8" text-anchor="end">Eastward</text>
<text x="341.2" y="639.4" font-size="18.9" text-anchor="middle">Zonal Wave Number</text>
<text transform="translate(27.7 350) rotate(-90)" font-size="18.9" text-anchor="middle">Frequency (cpd)</text>
<text x="90.4" y="583.45" font-size="15.5" text-anchor="end">0</text>
<text x="90.4" y="526.51" font-size="15.5" text-anchor="end">0.0625</text>
<text x="90.4" y="469.56" font-size="15.5" text-anchor="end">0.125</text>
<text x="90.4" y="412.62" font-size="15.5" text-anchor="end">0.1875</text>
<text x="90.4" y="355.67" font-size="15.5" text-anchor="end">0.25</text>
<text x="90.4" y="298.73" font-size="15.5" text-anchor="end">0.3125</text>
<text x="90.4" y="241.79" font-size="15.5" text-anchor="end">0.375</text>
<text x="90.4" y="184.84" font-size="15.5" text-anchor="end">0.4375</text>
<text x="90.4" y="127.90" font-size="15.5" text-anchor="end">0.5</text>
<text x="113.45" y="612.3" font-size="15.5" text-anchor="middle">-15</text>
<text x="189.38" y="612.3" font-size="15.5" text-anchor="middle">-10</text>
<text x="265.30" y="612.3" font-size="15.5" text-anchor="middle">-5</text>
<text x="341.23" y="612.3" font-size="15.5" text-anchor="middle">0</text>
<text x="417.15" y="612.3" font-size="15.5" text-anchor="middle">5</text>
<text x="493.07" y="612.3" font-size="15.5" text-anchor="middle">10</text>
<text x="569.00" y="612.3" font-size="15.5" text-anchor="middle">15</text>
<text x="117.2" y="266.3" font-size="12.6">3 days</text>
<text x="117.2" y="421.3" font-size="12.6">6 days</text>
<text x="117.2" y="539.6" font-size="12.6">30 days</text>
<rect x="124.3" y="149.3" width="35.4" height="18.2" fill="#fff" stroke="#555" stroke-width="1"/><text x="142.0" y="163.0" font-size="12.5" text-anchor="middle">h=12</text>
<rect x="291.2" y="158.4" width="45.4" height="18.0" fill="#fff" stroke="#555" stroke-width="1"/><text x="313.9" y="171.7" font-size="12.5" text-anchor="middle">n=1 IG</text>
<rect x="503.6" y="203.8" width="41.4" height="18.5" fill="#fff" stroke="#555" stroke-width="1"/><text x="524.3" y="217.3" font-size="12.5" text-anchor="middle">Kelvin</text>
<rect x="174.3" y="504.7" width="49.4" height="18.0" fill="#fff" stroke="#555" stroke-width="1"/><text x="199.0" y="518.4" font-size="12.5" text-anchor="middle">n=1 ER</text>
<rect x="612.5" y="126.40" width="27.0" height="27.90" fill="#ff69b4" stroke="#222" stroke-width="0.8"/>
<rect x="612.5" y="154.30" width="27.0" height="27.90" fill="#a02323" stroke="#222" stroke-width="0.8"/>
<rect x="612.5" y="182.20" width="27.0" height="27.90" fill="#c80000" stroke="#222" stroke-width="0.8"/>
<rect x="612.5" y="210.10" width="27.0" height="27.90" fill="#ff0000" stroke="#222" stroke-width="0.8"/>
<rect x="612.5" y="238.00" width="27.0" height="27.90" fill="#ff6e00" stroke="#222" stroke-width="0.8"/>
<rect x="612.5" y="265.90" width="27.0" height="27.90" fill="#ffaa00" stroke="#222" stroke-width="0.8"/>
<rect x="612.5" y="293.80" width="27.0" height="27.90" fill="#ffe132" stroke="#222" stroke-width="0.8"/>
<rect x="612.5" y="321.70" width="27.0" height="27.90" fill="#ffffc8" stroke="#222" stroke-width="0.8"/>
<rect x="612.5" y="349.60" width="27.0" height="27.90" fill="#d2ffff" stroke="#222" stroke-width="0.8"/>
<rect x="612.5" y="377.50" width="27.0" height="27.90" fill="#a0d2ff" stroke="#222" stroke-width="0.8"/>
<rect x="612.5" y="405.40" width="27.0" height="27.90" fill="#00bfff" stroke="#222" stroke-width="0.8"/>
<rect x="612.5" y="433.30" width="27.0" height="27.90" fill="#1e90ff" stroke="#222" stroke-width="0.8"/>
<rect x="612.5" y="461.20" width="27.0" height="27.90" fill="#4169e1" stroke="#222" stroke-width="0.8"/>
<rect x="612.5" y="489.10" width="27.0" height="27.90" fill="#0000cd" stroke="#222" stroke-width="0.8"/>
<rect x="612.5" y="517.00" width="27.0" height="27.90" fill="#000080" stroke="#222" stroke-width="0.8"/>
<rect x="612.5" y="544.90" width="27.0" height="27.90" fill="#8a2be2" stroke="#222" stroke-width="0.8"/>
<text x="647.5" y="159.80" font-size="15.5">2.8</text>
<text x="647.5" y="187.70" font-size="15.5">2.4</text>
<text x="647.5" y="215.60" font-size="15.5">2</text>
<text x="647.5" y="243.50" font-size="15.5">1.7</text>
<text x="647.5" y="271.40" font-size="15.5">1.4</text>
<text x="647.5" y="299.30" font-size="15.5">1.2</text>
<text x="647.5" y="327.20" font-size="15.5">1.1</text>
<text x="647.5" y="355.10" font-size="15.5">1</text>
<text x="647.5" y="383.00" font-size="15.5">0.9</text>
<text x="647.5" y="410.90" font-size="15.5">0.8</text>
<text x="647.5" y="438.80" font-size="15.5">0.7</text>
<text x="647.5" y="466.70" font-size="15.5">0.6</text>
<text x="647.5" y="494.60" font-size="15.5">0.5</text>
<text x="647.5" y="522.50" font-size="15.5">0.4</text>
<text x="647.5" y="550.40" font-size="15.5">0.3</text>
</svg></body></html>
